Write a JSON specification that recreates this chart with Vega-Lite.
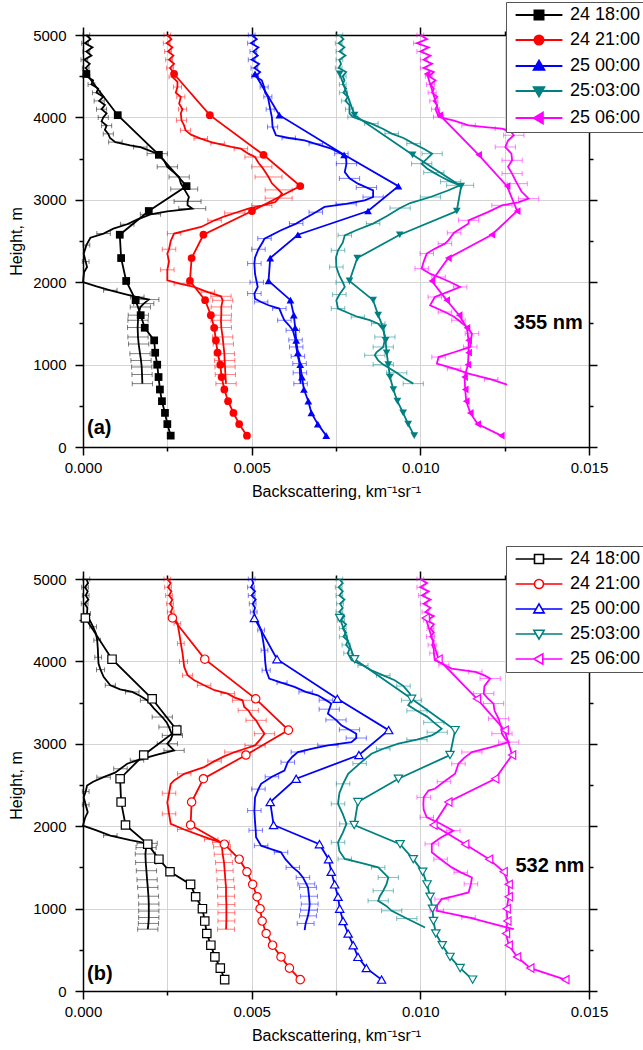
{
"$schema": "https://vega.github.io/schema/vega-lite/v6.json",
"background": "white",
"padding": {"left": 8, "top": 1, "right": 0, "bottom": 0},
"config": {"font": "Liberation Sans", "view": {"stroke": null}, "axis": {"labelFont": "Liberation Sans", "titleFont": "Liberation Sans"}, "legend": {"labelFont": "Liberation Sans"}, "text": {"font": "Liberation Sans"}},
"spacing": 46,
"datasets": {
"mod": [
{"p":"a","s":"24 18:00","h":4527,"v":0.0001},{"p":"a","s":"24 18:00","h":4027,"v":0.00103},{"p":"a","s":"24 18:00","h":3546,"v":0.00225},{"p":"a","s":"24 18:00","h":3166,"v":0.00307},{"p":"a","s":"24 18:00","h":2864,"v":0.00195},{"p":"a","s":"24 18:00","h":2576,"v":0.00109},{"p":"a","s":"24 18:00","h":2293,"v":0.00113},{"p":"a","s":"24 18:00","h":2015,"v":0.00128},{"p":"a","s":"24 18:00","h":1782,"v":0.00156},{"p":"a","s":"24 18:00","h":1600,"v":0.00171},{"p":"a","s":"24 18:00","h":1447,"v":0.00183},{"p":"a","s":"24 18:00","h":1294,"v":0.00211},{"p":"a","s":"24 18:00","h":1144,"v":0.00214},{"p":"a","s":"24 18:00","h":999,"v":0.0022},{"p":"a","s":"24 18:00","h":849,"v":0.00224},{"p":"a","s":"24 18:00","h":698,"v":0.00228},{"p":"a","s":"24 18:00","h":556,"v":0.00234},{"p":"a","s":"24 18:00","h":414,"v":0.00243},{"p":"a","s":"24 18:00","h":278,"v":0.0025},{"p":"a","s":"24 18:00","h":138,"v":0.0026},
{"p":"a","s":"24 21:00","h":4527,"v":0.0027},{"p":"a","s":"24 21:00","h":4027,"v":0.00376},{"p":"a","s":"24 21:00","h":3546,"v":0.00535},{"p":"a","s":"24 21:00","h":3166,"v":0.00644},{"p":"a","s":"24 21:00","h":2864,"v":0.00501},{"p":"a","s":"24 21:00","h":2576,"v":0.00357},{"p":"a","s":"24 21:00","h":2293,"v":0.00322},{"p":"a","s":"24 21:00","h":2015,"v":0.00317},{"p":"a","s":"24 21:00","h":1782,"v":0.00362},{"p":"a","s":"24 21:00","h":1600,"v":0.00379},{"p":"a","s":"24 21:00","h":1447,"v":0.00389},{"p":"a","s":"24 21:00","h":1294,"v":0.00394},{"p":"a","s":"24 21:00","h":1144,"v":0.00399},{"p":"a","s":"24 21:00","h":999,"v":0.00407},{"p":"a","s":"24 21:00","h":849,"v":0.00411},{"p":"a","s":"24 21:00","h":698,"v":0.00419},{"p":"a","s":"24 21:00","h":556,"v":0.0043},{"p":"a","s":"24 21:00","h":414,"v":0.00446},{"p":"a","s":"24 21:00","h":278,"v":0.00463},{"p":"a","s":"24 21:00","h":138,"v":0.00486},
{"p":"a","s":"25 00:00","h":4527,"v":0.0051},{"p":"a","s":"25 00:00","h":4027,"v":0.00582},{"p":"a","s":"25 00:00","h":3546,"v":0.00774},{"p":"a","s":"25 00:00","h":3166,"v":0.00935},{"p":"a","s":"25 00:00","h":2864,"v":0.00845},{"p":"a","s":"25 00:00","h":2576,"v":0.00637},{"p":"a","s":"25 00:00","h":2293,"v":0.00555},{"p":"a","s":"25 00:00","h":2015,"v":0.0055},{"p":"a","s":"25 00:00","h":1782,"v":0.00615},{"p":"a","s":"25 00:00","h":1600,"v":0.00625},{"p":"a","s":"25 00:00","h":1447,"v":0.00629},{"p":"a","s":"25 00:00","h":1294,"v":0.00632},{"p":"a","s":"25 00:00","h":1144,"v":0.00637},{"p":"a","s":"25 00:00","h":999,"v":0.00644},{"p":"a","s":"25 00:00","h":849,"v":0.00649},{"p":"a","s":"25 00:00","h":698,"v":0.00655},{"p":"a","s":"25 00:00","h":556,"v":0.00668},{"p":"a","s":"25 00:00","h":414,"v":0.00677},{"p":"a","s":"25 00:00","h":278,"v":0.00696},{"p":"a","s":"25 00:00","h":138,"v":0.00721},
{"p":"a","s":"25:03:00","h":4527,"v":0.00761},{"p":"a","s":"25:03:00","h":4027,"v":0.00805},{"p":"a","s":"25:03:00","h":3546,"v":0.00977},{"p":"a","s":"25:03:00","h":3166,"v":0.01121},{"p":"a","s":"25:03:00","h":2864,"v":0.01108},{"p":"a","s":"25:03:00","h":2576,"v":0.00939},{"p":"a","s":"25:03:00","h":2293,"v":0.00813},{"p":"a","s":"25:03:00","h":2015,"v":0.0079},{"p":"a","s":"25:03:00","h":1782,"v":0.0086},{"p":"a","s":"25:03:00","h":1600,"v":0.00875},{"p":"a","s":"25:03:00","h":1447,"v":0.0089},{"p":"a","s":"25:03:00","h":1294,"v":0.00897},{"p":"a","s":"25:03:00","h":1144,"v":0.009},{"p":"a","s":"25:03:00","h":999,"v":0.00905},{"p":"a","s":"25:03:00","h":849,"v":0.0091},{"p":"a","s":"25:03:00","h":698,"v":0.0092},{"p":"a","s":"25:03:00","h":556,"v":0.00932},{"p":"a","s":"25:03:00","h":414,"v":0.00949},{"p":"a","s":"25:03:00","h":278,"v":0.00964},{"p":"a","s":"25:03:00","h":138,"v":0.00982},
{"p":"a","s":"25 06:00","h":4527,"v":0.0102},{"p":"a","s":"25 06:00","h":4027,"v":0.01058},{"p":"a","s":"25 06:00","h":3546,"v":0.01173},{"p":"a","s":"25 06:00","h":3166,"v":0.01257},{"p":"a","s":"25 06:00","h":2864,"v":0.01287},{"p":"a","s":"25 06:00","h":2576,"v":0.01212},{"p":"a","s":"25 06:00","h":2293,"v":0.01083},{"p":"a","s":"25 06:00","h":2015,"v":0.01034},{"p":"a","s":"25 06:00","h":1782,"v":0.01078},{"p":"a","s":"25 06:00","h":1600,"v":0.01115},{"p":"a","s":"25 06:00","h":1447,"v":0.01138},{"p":"a","s":"25 06:00","h":1294,"v":0.01143},{"p":"a","s":"25 06:00","h":1144,"v":0.01143},{"p":"a","s":"25 06:00","h":999,"v":0.01141},{"p":"a","s":"25 06:00","h":849,"v":0.01131},{"p":"a","s":"25 06:00","h":698,"v":0.01133},{"p":"a","s":"25 06:00","h":556,"v":0.01136},{"p":"a","s":"25 06:00","h":414,"v":0.01148},{"p":"a","s":"25 06:00","h":278,"v":0.0117},{"p":"a","s":"25 06:00","h":138,"v":0.0124},
{"p":"b","s":"24 18:00","h":4527,"v":0.00007},{"p":"b","s":"24 18:00","h":4027,"v":0.00086},{"p":"b","s":"24 18:00","h":3546,"v":0.00205},{"p":"b","s":"24 18:00","h":3166,"v":0.00278},{"p":"b","s":"24 18:00","h":2864,"v":0.0018},{"p":"b","s":"24 18:00","h":2576,"v":0.0011},{"p":"b","s":"24 18:00","h":2293,"v":0.00113},{"p":"b","s":"24 18:00","h":2015,"v":0.00126},{"p":"b","s":"24 18:00","h":1782,"v":0.00192},{"p":"b","s":"24 18:00","h":1600,"v":0.00225},{"p":"b","s":"24 18:00","h":1447,"v":0.00258},{"p":"b","s":"24 18:00","h":1294,"v":0.00319},{"p":"b","s":"24 18:00","h":1144,"v":0.00334},{"p":"b","s":"24 18:00","h":999,"v":0.00354},{"p":"b","s":"24 18:00","h":849,"v":0.00361},{"p":"b","s":"24 18:00","h":698,"v":0.00367},{"p":"b","s":"24 18:00","h":556,"v":0.00379},{"p":"b","s":"24 18:00","h":414,"v":0.00391},{"p":"b","s":"24 18:00","h":278,"v":0.00407},{"p":"b","s":"24 18:00","h":138,"v":0.0042},
{"p":"b","s":"24 21:00","h":4527,"v":0.00265},{"p":"b","s":"24 21:00","h":4027,"v":0.00361},{"p":"b","s":"24 21:00","h":3546,"v":0.00512},{"p":"b","s":"24 21:00","h":3166,"v":0.00609},{"p":"b","s":"24 21:00","h":2864,"v":0.00483},{"p":"b","s":"24 21:00","h":2576,"v":0.00357},{"p":"b","s":"24 21:00","h":2293,"v":0.00322},{"p":"b","s":"24 21:00","h":2015,"v":0.00319},{"p":"b","s":"24 21:00","h":1782,"v":0.00419},{"p":"b","s":"24 21:00","h":1600,"v":0.00463},{"p":"b","s":"24 21:00","h":1447,"v":0.00486},{"p":"b","s":"24 21:00","h":1294,"v":0.00503},{"p":"b","s":"24 21:00","h":1144,"v":0.00516},{"p":"b","s":"24 21:00","h":999,"v":0.00525},{"p":"b","s":"24 21:00","h":849,"v":0.00531},{"p":"b","s":"24 21:00","h":698,"v":0.00543},{"p":"b","s":"24 21:00","h":556,"v":0.00562},{"p":"b","s":"24 21:00","h":414,"v":0.00587},{"p":"b","s":"24 21:00","h":278,"v":0.00612},{"p":"b","s":"24 21:00","h":138,"v":0.00644},
{"p":"b","s":"25 00:00","h":4527,"v":0.00508},{"p":"b","s":"25 00:00","h":4027,"v":0.00575},{"p":"b","s":"25 00:00","h":3546,"v":0.00754},{"p":"b","s":"25 00:00","h":3166,"v":0.00906},{"p":"b","s":"25 00:00","h":2864,"v":0.00818},{"p":"b","s":"25 00:00","h":2576,"v":0.00632},{"p":"b","s":"25 00:00","h":2293,"v":0.00555},{"p":"b","s":"25 00:00","h":2015,"v":0.00565},{"p":"b","s":"25 00:00","h":1782,"v":0.00701},{"p":"b","s":"25 00:00","h":1600,"v":0.00728},{"p":"b","s":"25 00:00","h":1447,"v":0.00736},{"p":"b","s":"25 00:00","h":1294,"v":0.00746},{"p":"b","s":"25 00:00","h":1144,"v":0.00756},{"p":"b","s":"25 00:00","h":999,"v":0.00761},{"p":"b","s":"25 00:00","h":849,"v":0.00771},{"p":"b","s":"25 00:00","h":698,"v":0.00786},{"p":"b","s":"25 00:00","h":556,"v":0.00801},{"p":"b","s":"25 00:00","h":414,"v":0.00815},{"p":"b","s":"25 00:00","h":278,"v":0.0084},{"p":"b","s":"25 00:00","h":138,"v":0.00885},
{"p":"b","s":"25:03:00","h":4527,"v":0.00761},{"p":"b","s":"25:03:00","h":4027,"v":0.00805},{"p":"b","s":"25:03:00","h":3546,"v":0.00974},{"p":"b","s":"25:03:00","h":3166,"v":0.01103},{"p":"b","s":"25:03:00","h":2864,"v":0.01088},{"p":"b","s":"25:03:00","h":2576,"v":0.00935},{"p":"b","s":"25:03:00","h":2293,"v":0.00815},{"p":"b","s":"25:03:00","h":2015,"v":0.00804},{"p":"b","s":"25:03:00","h":1782,"v":0.0094},{"p":"b","s":"25:03:00","h":1600,"v":0.00979},{"p":"b","s":"25:03:00","h":1447,"v":0.01007},{"p":"b","s":"25:03:00","h":1294,"v":0.0102},{"p":"b","s":"25:03:00","h":1144,"v":0.01029},{"p":"b","s":"25:03:00","h":999,"v":0.01036},{"p":"b","s":"25:03:00","h":849,"v":0.01039},{"p":"b","s":"25:03:00","h":698,"v":0.01046},{"p":"b","s":"25:03:00","h":556,"v":0.01065},{"p":"b","s":"25:03:00","h":414,"v":0.01088},{"p":"b","s":"25:03:00","h":278,"v":0.01118},{"p":"b","s":"25:03:00","h":138,"v":0.01155},
{"p":"b","s":"25 06:00","h":4527,"v":0.01016},{"p":"b","s":"25 06:00","h":4027,"v":0.01054},{"p":"b","s":"25 06:00","h":3546,"v":0.01168},{"p":"b","s":"25 06:00","h":3166,"v":0.0125},{"p":"b","s":"25 06:00","h":2864,"v":0.01272},{"p":"b","s":"25 06:00","h":2576,"v":0.01222},{"p":"b","s":"25 06:00","h":2293,"v":0.01083},{"p":"b","s":"25 06:00","h":2015,"v":0.01039},{"p":"b","s":"25 06:00","h":1782,"v":0.01133},{"p":"b","s":"25 06:00","h":1600,"v":0.01204},{"p":"b","s":"25 06:00","h":1447,"v":0.01247},{"p":"b","s":"25 06:00","h":1294,"v":0.01262},{"p":"b","s":"25 06:00","h":1144,"v":0.01262},{"p":"b","s":"25 06:00","h":999,"v":0.01256},{"p":"b","s":"25 06:00","h":849,"v":0.01258},{"p":"b","s":"25 06:00","h":698,"v":0.01254},{"p":"b","s":"25 06:00","h":556,"v":0.01262},{"p":"b","s":"25 06:00","h":414,"v":0.01287},{"p":"b","s":"25 06:00","h":278,"v":0.01326},{"p":"b","s":"25 06:00","h":138,"v":0.0143}
],
"lid": [
{"p":"a","s":"24 18:00","h":5000,"v":0.0001,"e":0.0001},{"p":"a","s":"24 18:00","h":4950,"v":0.00022},{"p":"a","s":"24 18:00","h":4900,"v":0.00006,"e":0.0001},{"p":"a","s":"24 18:00","h":4850,"v":0.00028},{"p":"a","s":"24 18:00","h":4800,"v":0.0001,"e":0.0001},{"p":"a","s":"24 18:00","h":4750,"v":0.00025},{"p":"a","s":"24 18:00","h":4700,"v":0.00004,"e":0.0001},{"p":"a","s":"24 18:00","h":4650,"v":0.0002},{"p":"a","s":"24 18:00","h":4600,"v":0.00008,"e":0.0001},{"p":"a","s":"24 18:00","h":4550,"v":0.00018},{"p":"a","s":"24 18:00","h":4500,"v":0.0001,"e":0.0001},{"p":"a","s":"24 18:00","h":4450,"v":0.0003},{"p":"a","s":"24 18:00","h":4400,"v":0.00025,"e":0.0001},{"p":"a","s":"24 18:00","h":4350,"v":0.00045},{"p":"a","s":"24 18:00","h":4300,"v":0.0004,"e":0.00012},{"p":"a","s":"24 18:00","h":4250,"v":0.0006},{"p":"a","s":"24 18:00","h":4200,"v":0.00048,"e":0.00015},{"p":"a","s":"24 18:00","h":4150,"v":0.00065},{"p":"a","s":"24 18:00","h":4100,"v":0.00055,"e":0.00015},{"p":"a","s":"24 18:00","h":4050,"v":0.0007},{"p":"a","s":"24 18:00","h":4000,"v":0.0006,"e":0.00015},{"p":"a","s":"24 18:00","h":3950,"v":0.00055},{"p":"a","s":"24 18:00","h":3900,"v":0.0007,"e":0.00015},{"p":"a","s":"24 18:00","h":3850,"v":0.00065},{"p":"a","s":"24 18:00","h":3800,"v":0.00075,"e":0.00015},{"p":"a","s":"24 18:00","h":3750,"v":0.0008},{"p":"a","s":"24 18:00","h":3700,"v":0.00096,"e":0.0002},{"p":"a","s":"24 18:00","h":3660,"v":0.0014},{"p":"a","s":"24 18:00","h":3640,"v":0.0017,"e":0.0002},{"p":"a","s":"24 18:00","h":3600,"v":0.00195},{"p":"a","s":"24 18:00","h":3560,"v":0.0022,"e":0.0003},{"p":"a","s":"24 18:00","h":3480,"v":0.0024},{"p":"a","s":"24 18:00","h":3400,"v":0.0025,"e":0.0003},{"p":"a","s":"24 18:00","h":3330,"v":0.0027},{"p":"a","s":"24 18:00","h":3277,"v":0.00285,"e":0.0003},{"p":"a","s":"24 18:00","h":3200,"v":0.0029},{"p":"a","s":"24 18:00","h":3130,"v":0.003,"e":0.0004},{"p":"a","s":"24 18:00","h":3034,"v":0.00314},{"p":"a","s":"24 18:00","h":2980,"v":0.0031,"e":0.0004},{"p":"a","s":"24 18:00","h":2933,"v":0.0031},{"p":"a","s":"24 18:00","h":2893,"v":0.00324,"e":0.0004},{"p":"a","s":"24 18:00","h":2860,"v":0.0025},{"p":"a","s":"24 18:00","h":2824,"v":0.002,"e":0.0003},{"p":"a","s":"24 18:00","h":2760,"v":0.0016},{"p":"a","s":"24 18:00","h":2703,"v":0.00131,"e":0.0002},{"p":"a","s":"24 18:00","h":2650,"v":0.0009},{"p":"a","s":"24 18:00","h":2590,"v":0.00061,"e":0.0002},{"p":"a","s":"24 18:00","h":2540,"v":0.00022},{"p":"a","s":"24 18:00","h":2450,"v":0.0001,"e":0.0001},{"p":"a","s":"24 18:00","h":2347,"v":0.00002},{"p":"a","s":"24 18:00","h":2250,"v":0.00008,"e":0.0001},{"p":"a","s":"24 18:00","h":2184,"v":0.00012},{"p":"a","s":"24 18:00","h":2120,"v":0.00003},{"p":"a","s":"24 18:00","h":2002,"v":0.0},{"p":"a","s":"24 18:00","h":1950,"v":0.0004},{"p":"a","s":"24 18:00","h":1902,"v":0.00081,"e":0.0002},{"p":"a","s":"24 18:00","h":1850,"v":0.0013},{"p":"a","s":"24 18:00","h":1820,"v":0.00161,"e":0.0002},{"p":"a","s":"24 18:00","h":1789,"v":0.00195,"e":0.0003},{"p":"a","s":"24 18:00","h":1740,"v":0.0018,"e":0.0003},{"p":"a","s":"24 18:00","h":1699,"v":0.0017,"e":0.0003},{"p":"a","s":"24 18:00","h":1600,"v":0.00164,"e":0.0003},{"p":"a","s":"24 18:00","h":1538,"v":0.00163,"e":0.0003},{"p":"a","s":"24 18:00","h":1450,"v":0.00162,"e":0.0003},{"p":"a","s":"24 18:00","h":1335,"v":0.00163,"e":0.0003},{"p":"a","s":"24 18:00","h":1250,"v":0.00165,"e":0.0003},{"p":"a","s":"24 18:00","h":1133,"v":0.00169,"e":0.0003},{"p":"a","s":"24 18:00","h":1050,"v":0.00172,"e":0.0003},{"p":"a","s":"24 18:00","h":971,"v":0.00174,"e":0.0003},{"p":"a","s":"24 18:00","h":880,"v":0.00175,"e":0.0003},{"p":"a","s":"24 18:00","h":769,"v":0.00176,"e":0.0003},
{"p":"a","s":"24 21:00","h":5000,"v":0.0025,"e":0.0001},{"p":"a","s":"24 21:00","h":4950,"v":0.00262},{"p":"a","s":"24 21:00","h":4900,"v":0.00248,"e":0.0001},{"p":"a","s":"24 21:00","h":4850,"v":0.00265},{"p":"a","s":"24 21:00","h":4800,"v":0.00252,"e":0.0001},{"p":"a","s":"24 21:00","h":4750,"v":0.00268},{"p":"a","s":"24 21:00","h":4700,"v":0.00255,"e":0.0001},{"p":"a","s":"24 21:00","h":4650,"v":0.0027},{"p":"a","s":"24 21:00","h":4600,"v":0.00258,"e":0.0001},{"p":"a","s":"24 21:00","h":4550,"v":0.00268},{"p":"a","s":"24 21:00","h":4490,"v":0.00265,"e":0.0001},{"p":"a","s":"24 21:00","h":4430,"v":0.0028},{"p":"a","s":"24 21:00","h":4369,"v":0.0028,"e":0.00012},{"p":"a","s":"24 21:00","h":4300,"v":0.00275},{"p":"a","s":"24 21:00","h":4250,"v":0.0029,"e":0.00012},{"p":"a","s":"24 21:00","h":4167,"v":0.00285},{"p":"a","s":"24 21:00","h":4100,"v":0.00295,"e":0.00012},{"p":"a","s":"24 21:00","h":4050,"v":0.0029},{"p":"a","s":"24 21:00","h":3965,"v":0.00292,"e":0.00015},{"p":"a","s":"24 21:00","h":3900,"v":0.003},{"p":"a","s":"24 21:00","h":3843,"v":0.00304,"e":0.00015},{"p":"a","s":"24 21:00","h":3790,"v":0.0032},{"p":"a","s":"24 21:00","h":3743,"v":0.00349,"e":0.0002},{"p":"a","s":"24 21:00","h":3700,"v":0.0038},{"p":"a","s":"24 21:00","h":3682,"v":0.00399,"e":0.0002},{"p":"a","s":"24 21:00","h":3641,"v":0.0044},{"p":"a","s":"24 21:00","h":3621,"v":0.00468,"e":0.0002},{"p":"a","s":"24 21:00","h":3560,"v":0.0049},{"p":"a","s":"24 21:00","h":3519,"v":0.0051,"e":0.0003},{"p":"a","s":"24 21:00","h":3450,"v":0.0052},{"p":"a","s":"24 21:00","h":3400,"v":0.0053,"e":0.0003},{"p":"a","s":"24 21:00","h":3340,"v":0.0054},{"p":"a","s":"24 21:00","h":3277,"v":0.0055,"e":0.0004},{"p":"a","s":"24 21:00","h":3200,"v":0.0056},{"p":"a","s":"24 21:00","h":3120,"v":0.0058,"e":0.0004},{"p":"a","s":"24 21:00","h":3075,"v":0.0059},{"p":"a","s":"24 21:00","h":3020,"v":0.0058,"e":0.0004},{"p":"a","s":"24 21:00","h":2973,"v":0.0057},{"p":"a","s":"24 21:00","h":2930,"v":0.0053,"e":0.0003},{"p":"a","s":"24 21:00","h":2893,"v":0.0049},{"p":"a","s":"24 21:00","h":2840,"v":0.0045,"e":0.0003},{"p":"a","s":"24 21:00","h":2800,"v":0.0042},{"p":"a","s":"24 21:00","h":2751,"v":0.0039,"e":0.0002},{"p":"a","s":"24 21:00","h":2670,"v":0.0035},{"p":"a","s":"24 21:00","h":2590,"v":0.0027,"e":0.0002},{"p":"a","s":"24 21:00","h":2500,"v":0.0026},{"p":"a","s":"24 21:00","h":2400,"v":0.00255,"e":0.0002},{"p":"a","s":"24 21:00","h":2347,"v":0.0025},{"p":"a","s":"24 21:00","h":2250,"v":0.00255},{"p":"a","s":"24 21:00","h":2150,"v":0.0025,"e":0.0002},{"p":"a","s":"24 21:00","h":2023,"v":0.0025},{"p":"a","s":"24 21:00","h":1980,"v":0.0029,"e":0.0002},{"p":"a","s":"24 21:00","h":1942,"v":0.00329},{"p":"a","s":"24 21:00","h":1880,"v":0.0037,"e":0.0002},{"p":"a","s":"24 21:00","h":1829,"v":0.00409,"e":0.0003},{"p":"a","s":"24 21:00","h":1780,"v":0.00414,"e":0.0003},{"p":"a","s":"24 21:00","h":1700,"v":0.0041,"e":0.0003},{"p":"a","s":"24 21:00","h":1600,"v":0.0041,"e":0.0003},{"p":"a","s":"24 21:00","h":1538,"v":0.00409,"e":0.0003},{"p":"a","s":"24 21:00","h":1450,"v":0.0041,"e":0.0003},{"p":"a","s":"24 21:00","h":1335,"v":0.00414,"e":0.0003},{"p":"a","s":"24 21:00","h":1250,"v":0.00416,"e":0.0003},{"p":"a","s":"24 21:00","h":1133,"v":0.00419,"e":0.0003},{"p":"a","s":"24 21:00","h":1050,"v":0.0042,"e":0.0003},{"p":"a","s":"24 21:00","h":971,"v":0.00421,"e":0.0003},{"p":"a","s":"24 21:00","h":880,"v":0.00422,"e":0.0003},{"p":"a","s":"24 21:00","h":769,"v":0.00424,"e":0.0003},
{"p":"a","s":"25 00:00","h":5000,"v":0.005,"e":0.0001},{"p":"a","s":"25 00:00","h":4950,"v":0.00515},{"p":"a","s":"25 00:00","h":4900,"v":0.00498,"e":0.0001},{"p":"a","s":"25 00:00","h":4850,"v":0.0052},{"p":"a","s":"25 00:00","h":4800,"v":0.00505,"e":0.0001},{"p":"a","s":"25 00:00","h":4750,"v":0.00518},{"p":"a","s":"25 00:00","h":4700,"v":0.005,"e":0.0001},{"p":"a","s":"25 00:00","h":4650,"v":0.00522},{"p":"a","s":"25 00:00","h":4600,"v":0.00508,"e":0.0001},{"p":"a","s":"25 00:00","h":4550,"v":0.00525},{"p":"a","s":"25 00:00","h":4500,"v":0.0051,"e":0.0001},{"p":"a","s":"25 00:00","h":4450,"v":0.0053},{"p":"a","s":"25 00:00","h":4369,"v":0.00537,"e":0.00012},{"p":"a","s":"25 00:00","h":4300,"v":0.0054},{"p":"a","s":"25 00:00","h":4250,"v":0.00548,"e":0.00012},{"p":"a","s":"25 00:00","h":4167,"v":0.00552},{"p":"a","s":"25 00:00","h":4100,"v":0.00555,"e":0.00012},{"p":"a","s":"25 00:00","h":4000,"v":0.0056},{"p":"a","s":"25 00:00","h":3884,"v":0.00562,"e":0.00015},{"p":"a","s":"25 00:00","h":3783,"v":0.00572},{"p":"a","s":"25 00:00","h":3750,"v":0.0061,"e":0.0002},{"p":"a","s":"25 00:00","h":3722,"v":0.00657},{"p":"a","s":"25 00:00","h":3680,"v":0.0069,"e":0.0002},{"p":"a","s":"25 00:00","h":3621,"v":0.00736},{"p":"a","s":"25 00:00","h":3560,"v":0.00766,"e":0.0002},{"p":"a","s":"25 00:00","h":3500,"v":0.0078},{"p":"a","s":"25 00:00","h":3439,"v":0.00781,"e":0.0003},{"p":"a","s":"25 00:00","h":3337,"v":0.00776},{"p":"a","s":"25 00:00","h":3260,"v":0.0079,"e":0.0003},{"p":"a","s":"25 00:00","h":3196,"v":0.00815},{"p":"a","s":"25 00:00","h":3150,"v":0.0084,"e":0.0003},{"p":"a","s":"25 00:00","h":3115,"v":0.0086},{"p":"a","s":"25 00:00","h":3034,"v":0.0086,"e":0.0003},{"p":"a","s":"25 00:00","h":2994,"v":0.00835},{"p":"a","s":"25 00:00","h":2950,"v":0.0078,"e":0.0003},{"p":"a","s":"25 00:00","h":2913,"v":0.00716},{"p":"a","s":"25 00:00","h":2850,"v":0.0069,"e":0.0002},{"p":"a","s":"25 00:00","h":2772,"v":0.00657},{"p":"a","s":"25 00:00","h":2711,"v":0.00632,"e":0.0002},{"p":"a","s":"25 00:00","h":2630,"v":0.00587},{"p":"a","s":"25 00:00","h":2529,"v":0.00538,"e":0.0002},{"p":"a","s":"25 00:00","h":2488,"v":0.00533},{"p":"a","s":"25 00:00","h":2400,"v":0.0052,"e":0.0002},{"p":"a","s":"25 00:00","h":2300,"v":0.0051},{"p":"a","s":"25 00:00","h":2226,"v":0.00508,"e":0.0002},{"p":"a","s":"25 00:00","h":2100,"v":0.0051},{"p":"a","s":"25 00:00","h":2000,"v":0.00515,"e":0.0002},{"p":"a","s":"25 00:00","h":1942,"v":0.00518},{"p":"a","s":"25 00:00","h":1862,"v":0.00508,"e":0.0002},{"p":"a","s":"25 00:00","h":1800,"v":0.0051},{"p":"a","s":"25 00:00","h":1760,"v":0.00528,"e":0.0002},{"p":"a","s":"25 00:00","h":1720,"v":0.0055},{"p":"a","s":"25 00:00","h":1680,"v":0.00582,"e":0.0002},{"p":"a","s":"25 00:00","h":1600,"v":0.0059},{"p":"a","s":"25 00:00","h":1538,"v":0.00597,"e":0.0002},{"p":"a","s":"25 00:00","h":1480,"v":0.0061},{"p":"a","s":"25 00:00","h":1416,"v":0.00622,"e":0.0002},{"p":"a","s":"25 00:00","h":1300,"v":0.0063,"e":0.0002},{"p":"a","s":"25 00:00","h":1214,"v":0.00632,"e":0.0002},{"p":"a","s":"25 00:00","h":1100,"v":0.00637,"e":0.0002},{"p":"a","s":"25 00:00","h":1012,"v":0.00642,"e":0.0002},{"p":"a","s":"25 00:00","h":900,"v":0.00643,"e":0.0002},{"p":"a","s":"25 00:00","h":769,"v":0.00645,"e":0.0002},
{"p":"a","s":"25:03:00","h":5000,"v":0.0076,"e":0.0001},{"p":"a","s":"25:03:00","h":4950,"v":0.00772},{"p":"a","s":"25:03:00","h":4900,"v":0.00758,"e":0.0001},{"p":"a","s":"25:03:00","h":4850,"v":0.00775},{"p":"a","s":"25:03:00","h":4800,"v":0.0076,"e":0.0001},{"p":"a","s":"25:03:00","h":4750,"v":0.00778},{"p":"a","s":"25:03:00","h":4700,"v":0.0076,"e":0.0001},{"p":"a","s":"25:03:00","h":4650,"v":0.00765},{"p":"a","s":"25:03:00","h":4600,"v":0.00758,"e":0.0001},{"p":"a","s":"25:03:00","h":4550,"v":0.0078},{"p":"a","s":"25:03:00","h":4500,"v":0.0077,"e":0.0001},{"p":"a","s":"25:03:00","h":4450,"v":0.00775},{"p":"a","s":"25:03:00","h":4400,"v":0.0077,"e":0.0001},{"p":"a","s":"25:03:00","h":4350,"v":0.0078},{"p":"a","s":"25:03:00","h":4300,"v":0.00772,"e":0.00012},{"p":"a","s":"25:03:00","h":4250,"v":0.00785},{"p":"a","s":"25:03:00","h":4200,"v":0.00778,"e":0.00012},{"p":"a","s":"25:03:00","h":4150,"v":0.0079},{"p":"a","s":"25:03:00","h":4100,"v":0.0079,"e":0.00012},{"p":"a","s":"25:03:00","h":4050,"v":0.0079},{"p":"a","s":"25:03:00","h":4005,"v":0.008,"e":0.00015},{"p":"a","s":"25:03:00","h":3960,"v":0.0083},{"p":"a","s":"25:03:00","h":3925,"v":0.00855,"e":0.0002},{"p":"a","s":"25:03:00","h":3860,"v":0.0089},{"p":"a","s":"25:03:00","h":3803,"v":0.00915,"e":0.0002},{"p":"a","s":"25:03:00","h":3750,"v":0.0095},{"p":"a","s":"25:03:00","h":3682,"v":0.0098,"e":0.0002},{"p":"a","s":"25:03:00","h":3620,"v":0.0101},{"p":"a","s":"25:03:00","h":3560,"v":0.01035,"e":0.0003},{"p":"a","s":"25:03:00","h":3500,"v":0.0102},{"p":"a","s":"25:03:00","h":3439,"v":0.01004,"e":0.0003},{"p":"a","s":"25:03:00","h":3380,"v":0.0102},{"p":"a","s":"25:03:00","h":3330,"v":0.0104,"e":0.0003},{"p":"a","s":"25:03:00","h":3277,"v":0.01063},{"p":"a","s":"25:03:00","h":3220,"v":0.0109,"e":0.0003},{"p":"a","s":"25:03:00","h":3176,"v":0.01118,"e":0.0004},{"p":"a","s":"25:03:00","h":3110,"v":0.0108},{"p":"a","s":"25:03:00","h":3034,"v":0.0103,"e":0.0003},{"p":"a","s":"25:03:00","h":2961,"v":0.0097},{"p":"a","s":"25:03:00","h":2900,"v":0.0094,"e":0.0003},{"p":"a","s":"25:03:00","h":2800,"v":0.009},{"p":"a","s":"25:03:00","h":2711,"v":0.0086,"e":0.0002},{"p":"a","s":"25:03:00","h":2630,"v":0.0081},{"p":"a","s":"25:03:00","h":2569,"v":0.00776,"e":0.0002},{"p":"a","s":"25:03:00","h":2480,"v":0.0077},{"p":"a","s":"25:03:00","h":2387,"v":0.00756,"e":0.0002},{"p":"a","s":"25:03:00","h":2300,"v":0.0075},{"p":"a","s":"25:03:00","h":2184,"v":0.00751,"e":0.0002},{"p":"a","s":"25:03:00","h":2080,"v":0.0076},{"p":"a","s":"25:03:00","h":2000,"v":0.0077,"e":0.0002},{"p":"a","s":"25:03:00","h":1942,"v":0.00776},{"p":"a","s":"25:03:00","h":1850,"v":0.0076,"e":0.0002},{"p":"a","s":"25:03:00","h":1780,"v":0.00751},{"p":"a","s":"25:03:00","h":1680,"v":0.00756,"e":0.0002},{"p":"a","s":"25:03:00","h":1620,"v":0.0079},{"p":"a","s":"25:03:00","h":1578,"v":0.00815,"e":0.0002},{"p":"a","s":"25:03:00","h":1540,"v":0.0085},{"p":"a","s":"25:03:00","h":1497,"v":0.00875,"e":0.0002},{"p":"a","s":"25:03:00","h":1420,"v":0.0089},{"p":"a","s":"25:03:00","h":1335,"v":0.00895,"e":0.0003},{"p":"a","s":"25:03:00","h":1270,"v":0.00893},{"p":"a","s":"25:03:00","h":1214,"v":0.0089,"e":0.0003},{"p":"a","s":"25:03:00","h":1150,"v":0.0087},{"p":"a","s":"25:03:00","h":1113,"v":0.00865,"e":0.0003},{"p":"a","s":"25:03:00","h":1052,"v":0.00875},{"p":"a","s":"25:03:00","h":1000,"v":0.0089,"e":0.0003},{"p":"a","s":"25:03:00","h":900,"v":0.0093,"e":0.0003},{"p":"a","s":"25:03:00","h":840,"v":0.0095},{"p":"a","s":"25:03:00","h":769,"v":0.00979,"e":0.0003},
{"p":"a","s":"25 06:00","h":5000,"v":0.01,"e":0.0001},{"p":"a","s":"25 06:00","h":4950,"v":0.0102},{"p":"a","s":"25 06:00","h":4900,"v":0.0099,"e":0.0001},{"p":"a","s":"25 06:00","h":4850,"v":0.01025},{"p":"a","s":"25 06:00","h":4800,"v":0.01,"e":0.0001},{"p":"a","s":"25 06:00","h":4750,"v":0.0103},{"p":"a","s":"25 06:00","h":4700,"v":0.0101,"e":0.0001},{"p":"a","s":"25 06:00","h":4650,"v":0.01035},{"p":"a","s":"25 06:00","h":4600,"v":0.0101,"e":0.0001},{"p":"a","s":"25 06:00","h":4550,"v":0.0104},{"p":"a","s":"25 06:00","h":4500,"v":0.01025,"e":0.0001},{"p":"a","s":"25 06:00","h":4450,"v":0.01045},{"p":"a","s":"25 06:00","h":4400,"v":0.0103,"e":0.00012},{"p":"a","s":"25 06:00","h":4350,"v":0.0104},{"p":"a","s":"25 06:00","h":4300,"v":0.01035,"e":0.00012},{"p":"a","s":"25 06:00","h":4250,"v":0.0105},{"p":"a","s":"25 06:00","h":4200,"v":0.0104,"e":0.00012},{"p":"a","s":"25 06:00","h":4150,"v":0.0105},{"p":"a","s":"25 06:00","h":4100,"v":0.01045,"e":0.00012},{"p":"a","s":"25 06:00","h":4050,"v":0.0105},{"p":"a","s":"25 06:00","h":4005,"v":0.01054,"e":0.00015},{"p":"a","s":"25 06:00","h":3960,"v":0.011},{"p":"a","s":"25 06:00","h":3904,"v":0.01143,"e":0.0002},{"p":"a","s":"25 06:00","h":3880,"v":0.012},{"p":"a","s":"25 06:00","h":3864,"v":0.01242,"e":0.0002},{"p":"a","s":"25 06:00","h":3820,"v":0.0127},{"p":"a","s":"25 06:00","h":3783,"v":0.01277,"e":0.0003},{"p":"a","s":"25 06:00","h":3720,"v":0.0126},{"p":"a","s":"25 06:00","h":3641,"v":0.01252,"e":0.0003},{"p":"a","s":"25 06:00","h":3560,"v":0.0127},{"p":"a","s":"25 06:00","h":3479,"v":0.01272,"e":0.0003},{"p":"a","s":"25 06:00","h":3400,"v":0.0126},{"p":"a","s":"25 06:00","h":3318,"v":0.01272,"e":0.0003},{"p":"a","s":"25 06:00","h":3250,"v":0.0128},{"p":"a","s":"25 06:00","h":3196,"v":0.01287,"e":0.0003},{"p":"a","s":"25 06:00","h":3100,"v":0.013},{"p":"a","s":"25 06:00","h":3014,"v":0.01321,"e":0.0003},{"p":"a","s":"25 06:00","h":2970,"v":0.0129},{"p":"a","s":"25 06:00","h":2933,"v":0.01242,"e":0.0003},{"p":"a","s":"25 06:00","h":2850,"v":0.012},{"p":"a","s":"25 06:00","h":2751,"v":0.01143,"e":0.0003},{"p":"a","s":"25 06:00","h":2711,"v":0.01143},{"p":"a","s":"25 06:00","h":2600,"v":0.011,"e":0.0002},{"p":"a","s":"25 06:00","h":2508,"v":0.01083},{"p":"a","s":"25 06:00","h":2468,"v":0.01073,"e":0.0002},{"p":"a","s":"25 06:00","h":2400,"v":0.0104},{"p":"a","s":"25 06:00","h":2347,"v":0.01019,"e":0.0002},{"p":"a","s":"25 06:00","h":2250,"v":0.0101},{"p":"a","s":"25 06:00","h":2165,"v":0.01004,"e":0.0002},{"p":"a","s":"25 06:00","h":2100,"v":0.0103},{"p":"a","s":"25 06:00","h":2063,"v":0.01054,"e":0.0002},{"p":"a","s":"25 06:00","h":2000,"v":0.0109},{"p":"a","s":"25 06:00","h":1942,"v":0.01118,"e":0.0002},{"p":"a","s":"25 06:00","h":1880,"v":0.0108},{"p":"a","s":"25 06:00","h":1820,"v":0.01043,"e":0.0002},{"p":"a","s":"25 06:00","h":1720,"v":0.01029},{"p":"a","s":"25 06:00","h":1638,"v":0.01073,"e":0.0002},{"p":"a","s":"25 06:00","h":1580,"v":0.011},{"p":"a","s":"25 06:00","h":1538,"v":0.01113,"e":0.0002},{"p":"a","s":"25 06:00","h":1450,"v":0.0114},{"p":"a","s":"25 06:00","h":1376,"v":0.01153,"e":0.0002},{"p":"a","s":"25 06:00","h":1300,"v":0.0115},{"p":"a","s":"25 06:00","h":1214,"v":0.01148,"e":0.0002},{"p":"a","s":"25 06:00","h":1150,"v":0.011},{"p":"a","s":"25 06:00","h":1092,"v":0.01054,"e":0.0002},{"p":"a","s":"25 06:00","h":1012,"v":0.01049},{"p":"a","s":"25 06:00","h":950,"v":0.011,"e":0.0002},{"p":"a","s":"25 06:00","h":891,"v":0.01143},{"p":"a","s":"25 06:00","h":820,"v":0.0121,"e":0.0002},{"p":"a","s":"25 06:00","h":757,"v":0.01257},
{"p":"b","s":"24 18:00","h":5000,"v":0.0001,"e":0.0001},{"p":"b","s":"24 18:00","h":4950,"v":0.00015},{"p":"b","s":"24 18:00","h":4900,"v":0.00006,"e":0.0001},{"p":"b","s":"24 18:00","h":4850,"v":0.00014},{"p":"b","s":"24 18:00","h":4800,"v":0.00008,"e":0.0001},{"p":"b","s":"24 18:00","h":4750,"v":0.00016},{"p":"b","s":"24 18:00","h":4700,"v":0.00005,"e":0.0001},{"p":"b","s":"24 18:00","h":4650,"v":0.00013},{"p":"b","s":"24 18:00","h":4582,"v":0.00012,"e":0.0001},{"p":"b","s":"24 18:00","h":4500,"v":0.0002},{"p":"b","s":"24 18:00","h":4420,"v":0.0003,"e":0.0001},{"p":"b","s":"24 18:00","h":4340,"v":0.00038},{"p":"b","s":"24 18:00","h":4258,"v":0.00042,"e":0.0001},{"p":"b","s":"24 18:00","h":4150,"v":0.00044},{"p":"b","s":"24 18:00","h":4050,"v":0.00045,"e":0.0001},{"p":"b","s":"24 18:00","h":3974,"v":0.00046},{"p":"b","s":"24 18:00","h":3900,"v":0.00052,"e":0.00012},{"p":"b","s":"24 18:00","h":3812,"v":0.00061},{"p":"b","s":"24 18:00","h":3710,"v":0.00081,"e":0.00015},{"p":"b","s":"24 18:00","h":3660,"v":0.0011},{"p":"b","s":"24 18:00","h":3629,"v":0.00146,"e":0.0002},{"p":"b","s":"24 18:00","h":3580,"v":0.0017},{"p":"b","s":"24 18:00","h":3528,"v":0.0019,"e":0.0002},{"p":"b","s":"24 18:00","h":3430,"v":0.0021},{"p":"b","s":"24 18:00","h":3325,"v":0.00235,"e":0.0003},{"p":"b","s":"24 18:00","h":3260,"v":0.00248},{"p":"b","s":"24 18:00","h":3203,"v":0.00255,"e":0.0003},{"p":"b","s":"24 18:00","h":3150,"v":0.0026},{"p":"b","s":"24 18:00","h":3102,"v":0.00265,"e":0.0003},{"p":"b","s":"24 18:00","h":3050,"v":0.0026},{"p":"b","s":"24 18:00","h":3001,"v":0.0025,"e":0.0003},{"p":"b","s":"24 18:00","h":2960,"v":0.0026},{"p":"b","s":"24 18:00","h":2920,"v":0.0027,"e":0.0003},{"p":"b","s":"24 18:00","h":2870,"v":0.0022},{"p":"b","s":"24 18:00","h":2800,"v":0.0016,"e":0.0002},{"p":"b","s":"24 18:00","h":2758,"v":0.00131},{"p":"b","s":"24 18:00","h":2697,"v":0.00111,"e":0.0002},{"p":"b","s":"24 18:00","h":2650,"v":0.00095},{"p":"b","s":"24 18:00","h":2595,"v":0.00061,"e":0.0002},{"p":"b","s":"24 18:00","h":2540,"v":0.0003},{"p":"b","s":"24 18:00","h":2494,"v":0.00012},{"p":"b","s":"24 18:00","h":2420,"v":0.00008,"e":0.0001},{"p":"b","s":"24 18:00","h":2352,"v":0.00002},{"p":"b","s":"24 18:00","h":2260,"v":0.00008,"e":0.0001},{"p":"b","s":"24 18:00","h":2169,"v":0.00014},{"p":"b","s":"24 18:00","h":2100,"v":0.00006},{"p":"b","s":"24 18:00","h":2007,"v":0.0},{"p":"b","s":"24 18:00","h":1950,"v":0.0004},{"p":"b","s":"24 18:00","h":1886,"v":0.00081,"e":0.0002},{"p":"b","s":"24 18:00","h":1830,"v":0.0014},{"p":"b","s":"24 18:00","h":1792,"v":0.0019,"e":0.0003},{"p":"b","s":"24 18:00","h":1740,"v":0.00187,"e":0.0003},{"p":"b","s":"24 18:00","h":1663,"v":0.00185,"e":0.0003},{"p":"b","s":"24 18:00","h":1560,"v":0.00186,"e":0.0003},{"p":"b","s":"24 18:00","h":1460,"v":0.00188,"e":0.0003},{"p":"b","s":"24 18:00","h":1350,"v":0.0019,"e":0.0003},{"p":"b","s":"24 18:00","h":1257,"v":0.00192,"e":0.0003},{"p":"b","s":"24 18:00","h":1150,"v":0.00194,"e":0.0003},{"p":"b","s":"24 18:00","h":1055,"v":0.00195,"e":0.0003},{"p":"b","s":"24 18:00","h":970,"v":0.00195,"e":0.0003},{"p":"b","s":"24 18:00","h":892,"v":0.00195,"e":0.0003},{"p":"b","s":"24 18:00","h":820,"v":0.00194,"e":0.0003},{"p":"b","s":"24 18:00","h":750,"v":0.00192,"e":0.0003},
{"p":"b","s":"24 21:00","h":5000,"v":0.0025,"e":0.0001},{"p":"b","s":"24 21:00","h":4950,"v":0.0026},{"p":"b","s":"24 21:00","h":4900,"v":0.00252,"e":0.0001},{"p":"b","s":"24 21:00","h":4850,"v":0.00262},{"p":"b","s":"24 21:00","h":4800,"v":0.00255,"e":0.0001},{"p":"b","s":"24 21:00","h":4750,"v":0.00265},{"p":"b","s":"24 21:00","h":4700,"v":0.00258,"e":0.0001},{"p":"b","s":"24 21:00","h":4650,"v":0.00266},{"p":"b","s":"24 21:00","h":4600,"v":0.0026,"e":0.0001},{"p":"b","s":"24 21:00","h":4550,"v":0.00268},{"p":"b","s":"24 21:00","h":4461,"v":0.0028,"e":0.0001},{"p":"b","s":"24 21:00","h":4350,"v":0.00285},{"p":"b","s":"24 21:00","h":4218,"v":0.0029,"e":0.0001},{"p":"b","s":"24 21:00","h":4100,"v":0.00295},{"p":"b","s":"24 21:00","h":4000,"v":0.00298,"e":0.00012},{"p":"b","s":"24 21:00","h":3933,"v":0.003},{"p":"b","s":"24 21:00","h":3832,"v":0.0031,"e":0.00015},{"p":"b","s":"24 21:00","h":3770,"v":0.0033},{"p":"b","s":"24 21:00","h":3710,"v":0.00359,"e":0.0002},{"p":"b","s":"24 21:00","h":3650,"v":0.0039},{"p":"b","s":"24 21:00","h":3609,"v":0.00429,"e":0.0002},{"p":"b","s":"24 21:00","h":3560,"v":0.0045},{"p":"b","s":"24 21:00","h":3528,"v":0.00473,"e":0.0003},{"p":"b","s":"24 21:00","h":3447,"v":0.00478},{"p":"b","s":"24 21:00","h":3406,"v":0.0049,"e":0.0003},{"p":"b","s":"24 21:00","h":3340,"v":0.005},{"p":"b","s":"24 21:00","h":3285,"v":0.00513,"e":0.0003},{"p":"b","s":"24 21:00","h":3200,"v":0.00525},{"p":"b","s":"24 21:00","h":3123,"v":0.00538,"e":0.0003},{"p":"b","s":"24 21:00","h":3041,"v":0.00523},{"p":"b","s":"24 21:00","h":2980,"v":0.0051,"e":0.0003},{"p":"b","s":"24 21:00","h":2940,"v":0.0048},{"p":"b","s":"24 21:00","h":2900,"v":0.0045,"e":0.0003},{"p":"b","s":"24 21:00","h":2850,"v":0.0042},{"p":"b","s":"24 21:00","h":2790,"v":0.0039,"e":0.0002},{"p":"b","s":"24 21:00","h":2717,"v":0.00359},{"p":"b","s":"24 21:00","h":2636,"v":0.003,"e":0.0002},{"p":"b","s":"24 21:00","h":2555,"v":0.0027},{"p":"b","s":"24 21:00","h":2514,"v":0.0026},{"p":"b","s":"24 21:00","h":2400,"v":0.00255,"e":0.0002},{"p":"b","s":"24 21:00","h":2291,"v":0.0025},{"p":"b","s":"24 21:00","h":2150,"v":0.00255,"e":0.0002},{"p":"b","s":"24 21:00","h":2028,"v":0.0026},{"p":"b","s":"24 21:00","h":1960,"v":0.003,"e":0.0002},{"p":"b","s":"24 21:00","h":1886,"v":0.00349},{"p":"b","s":"24 21:00","h":1840,"v":0.0038,"e":0.0002},{"p":"b","s":"24 21:00","h":1804,"v":0.00409,"e":0.00025},{"p":"b","s":"24 21:00","h":1750,"v":0.00412,"e":0.00025},{"p":"b","s":"24 21:00","h":1660,"v":0.00414,"e":0.00025},{"p":"b","s":"24 21:00","h":1560,"v":0.00418,"e":0.00025},{"p":"b","s":"24 21:00","h":1460,"v":0.0042,"e":0.00025},{"p":"b","s":"24 21:00","h":1350,"v":0.00422,"e":0.00025},{"p":"b","s":"24 21:00","h":1257,"v":0.00424,"e":0.00025},{"p":"b","s":"24 21:00","h":1150,"v":0.00424,"e":0.00025},{"p":"b","s":"24 21:00","h":1050,"v":0.00425,"e":0.00025},{"p":"b","s":"24 21:00","h":950,"v":0.00425,"e":0.00025},{"p":"b","s":"24 21:00","h":850,"v":0.00425,"e":0.00025},{"p":"b","s":"24 21:00","h":750,"v":0.00424,"e":0.00025},
{"p":"b","s":"25 00:00","h":5000,"v":0.005,"e":0.0001},{"p":"b","s":"25 00:00","h":4950,"v":0.00505},{"p":"b","s":"25 00:00","h":4900,"v":0.00498,"e":0.0001},{"p":"b","s":"25 00:00","h":4850,"v":0.0051},{"p":"b","s":"25 00:00","h":4800,"v":0.005,"e":0.0001},{"p":"b","s":"25 00:00","h":4750,"v":0.00512},{"p":"b","s":"25 00:00","h":4700,"v":0.00503,"e":0.0001},{"p":"b","s":"25 00:00","h":4650,"v":0.0051},{"p":"b","s":"25 00:00","h":4600,"v":0.00506,"e":0.0001},{"p":"b","s":"25 00:00","h":4500,"v":0.00515},{"p":"b","s":"25 00:00","h":4380,"v":0.00528,"e":0.0001},{"p":"b","s":"25 00:00","h":4250,"v":0.00534},{"p":"b","s":"25 00:00","h":4136,"v":0.00538,"e":0.0001},{"p":"b","s":"25 00:00","h":4000,"v":0.0054},{"p":"b","s":"25 00:00","h":3893,"v":0.00543,"e":0.00012},{"p":"b","s":"25 00:00","h":3792,"v":0.00552},{"p":"b","s":"25 00:00","h":3740,"v":0.0059,"e":0.00015},{"p":"b","s":"25 00:00","h":3690,"v":0.00627},{"p":"b","s":"25 00:00","h":3630,"v":0.0066,"e":0.0002},{"p":"b","s":"25 00:00","h":3589,"v":0.00696},{"p":"b","s":"25 00:00","h":3530,"v":0.0072,"e":0.0002},{"p":"b","s":"25 00:00","h":3488,"v":0.00736},{"p":"b","s":"25 00:00","h":3420,"v":0.0073,"e":0.0003},{"p":"b","s":"25 00:00","h":3366,"v":0.00726},{"p":"b","s":"25 00:00","h":3290,"v":0.0075,"e":0.0003},{"p":"b","s":"25 00:00","h":3224,"v":0.00766},{"p":"b","s":"25 00:00","h":3170,"v":0.0079,"e":0.0003},{"p":"b","s":"25 00:00","h":3123,"v":0.0081},{"p":"b","s":"25 00:00","h":3070,"v":0.0081,"e":0.0003},{"p":"b","s":"25 00:00","h":3021,"v":0.00796},{"p":"b","s":"25 00:00","h":2981,"v":0.00726,"e":0.0003},{"p":"b","s":"25 00:00","h":2940,"v":0.0068},{"p":"b","s":"25 00:00","h":2900,"v":0.00637,"e":0.0002},{"p":"b","s":"25 00:00","h":2840,"v":0.0062},{"p":"b","s":"25 00:00","h":2777,"v":0.00607,"e":0.0002},{"p":"b","s":"25 00:00","h":2676,"v":0.00597},{"p":"b","s":"25 00:00","h":2600,"v":0.0056,"e":0.0002},{"p":"b","s":"25 00:00","h":2514,"v":0.00528},{"p":"b","s":"25 00:00","h":2450,"v":0.0052,"e":0.0002},{"p":"b","s":"25 00:00","h":2350,"v":0.0051},{"p":"b","s":"25 00:00","h":2190,"v":0.00508,"e":0.0002},{"p":"b","s":"25 00:00","h":2050,"v":0.0051},{"p":"b","s":"25 00:00","h":1950,"v":0.00512,"e":0.0002},{"p":"b","s":"25 00:00","h":1865,"v":0.00513},{"p":"b","s":"25 00:00","h":1764,"v":0.00528,"e":0.0002},{"p":"b","s":"25 00:00","h":1720,"v":0.0056},{"p":"b","s":"25 00:00","h":1683,"v":0.00587,"e":0.0002},{"p":"b","s":"25 00:00","h":1600,"v":0.006},{"p":"b","s":"25 00:00","h":1500,"v":0.00622,"e":0.0002},{"p":"b","s":"25 00:00","h":1440,"v":0.0064},{"p":"b","s":"25 00:00","h":1378,"v":0.00652,"e":0.0002},{"p":"b","s":"25 00:00","h":1300,"v":0.00662,"e":0.00025},{"p":"b","s":"25 00:00","h":1257,"v":0.00667,"e":0.00025},{"p":"b","s":"25 00:00","h":1150,"v":0.0067,"e":0.00025},{"p":"b","s":"25 00:00","h":1055,"v":0.00672,"e":0.00025},{"p":"b","s":"25 00:00","h":980,"v":0.0067,"e":0.00025},{"p":"b","s":"25 00:00","h":912,"v":0.00667,"e":0.00025},{"p":"b","s":"25 00:00","h":820,"v":0.0066,"e":0.00025},{"p":"b","s":"25 00:00","h":738,"v":0.00657},
{"p":"b","s":"25:03:00","h":5000,"v":0.0076,"e":0.0001},{"p":"b","s":"25:03:00","h":4950,"v":0.0077},{"p":"b","s":"25:03:00","h":4900,"v":0.00758,"e":0.0001},{"p":"b","s":"25:03:00","h":4850,"v":0.0077},{"p":"b","s":"25:03:00","h":4800,"v":0.0076,"e":0.0001},{"p":"b","s":"25:03:00","h":4750,"v":0.00775},{"p":"b","s":"25:03:00","h":4700,"v":0.00762,"e":0.0001},{"p":"b","s":"25:03:00","h":4650,"v":0.0077},{"p":"b","s":"25:03:00","h":4600,"v":0.0076,"e":0.0001},{"p":"b","s":"25:03:00","h":4550,"v":0.00775},{"p":"b","s":"25:03:00","h":4500,"v":0.00765,"e":0.0001},{"p":"b","s":"25:03:00","h":4450,"v":0.0078},{"p":"b","s":"25:03:00","h":4400,"v":0.0077,"e":0.0001},{"p":"b","s":"25:03:00","h":4350,"v":0.0078},{"p":"b","s":"25:03:00","h":4300,"v":0.00772,"e":0.00012},{"p":"b","s":"25:03:00","h":4250,"v":0.00785},{"p":"b","s":"25:03:00","h":4200,"v":0.0078,"e":0.00012},{"p":"b","s":"25:03:00","h":4150,"v":0.0079},{"p":"b","s":"25:03:00","h":4100,"v":0.00785,"e":0.00012},{"p":"b","s":"25:03:00","h":4015,"v":0.00796},{"p":"b","s":"25:03:00","h":3950,"v":0.0083,"e":0.00015},{"p":"b","s":"25:03:00","h":3893,"v":0.00855},{"p":"b","s":"25:03:00","h":3830,"v":0.0089,"e":0.0002},{"p":"b","s":"25:03:00","h":3771,"v":0.00924},{"p":"b","s":"25:03:00","h":3700,"v":0.0095,"e":0.0002},{"p":"b","s":"25:03:00","h":3609,"v":0.00969},{"p":"b","s":"25:03:00","h":3528,"v":0.00974,"e":0.0003},{"p":"b","s":"25:03:00","h":3467,"v":0.00964},{"p":"b","s":"25:03:00","h":3400,"v":0.0099,"e":0.0003},{"p":"b","s":"25:03:00","h":3330,"v":0.0102},{"p":"b","s":"25:03:00","h":3260,"v":0.0104,"e":0.0003},{"p":"b","s":"25:03:00","h":3184,"v":0.01063},{"p":"b","s":"25:03:00","h":3140,"v":0.0105,"e":0.0003},{"p":"b","s":"25:03:00","h":3102,"v":0.01034},{"p":"b","s":"25:03:00","h":3050,"v":0.0099,"e":0.0003},{"p":"b","s":"25:03:00","h":3001,"v":0.00935},{"p":"b","s":"25:03:00","h":2940,"v":0.0089,"e":0.0002},{"p":"b","s":"25:03:00","h":2880,"v":0.00855},{"p":"b","s":"25:03:00","h":2760,"v":0.0082,"e":0.0002},{"p":"b","s":"25:03:00","h":2636,"v":0.00786},{"p":"b","s":"25:03:00","h":2514,"v":0.00771,"e":0.0002},{"p":"b","s":"25:03:00","h":2400,"v":0.0076},{"p":"b","s":"25:03:00","h":2271,"v":0.00756,"e":0.0002},{"p":"b","s":"25:03:00","h":2150,"v":0.0077},{"p":"b","s":"25:03:00","h":2028,"v":0.00781,"e":0.0002},{"p":"b","s":"25:03:00","h":1920,"v":0.0077},{"p":"b","s":"25:03:00","h":1804,"v":0.00756,"e":0.0002},{"p":"b","s":"25:03:00","h":1700,"v":0.0076},{"p":"b","s":"25:03:00","h":1602,"v":0.00776,"e":0.0002},{"p":"b","s":"25:03:00","h":1550,"v":0.0083},{"p":"b","s":"25:03:00","h":1500,"v":0.00875,"e":0.0002},{"p":"b","s":"25:03:00","h":1440,"v":0.0089},{"p":"b","s":"25:03:00","h":1378,"v":0.00905,"e":0.0003},{"p":"b","s":"25:03:00","h":1300,"v":0.009},{"p":"b","s":"25:03:00","h":1217,"v":0.0089,"e":0.0003},{"p":"b","s":"25:03:00","h":1150,"v":0.0088},{"p":"b","s":"25:03:00","h":1095,"v":0.00875,"e":0.0003},{"p":"b","s":"25:03:00","h":1030,"v":0.009},{"p":"b","s":"25:03:00","h":973,"v":0.00915,"e":0.0003},{"p":"b","s":"25:03:00","h":880,"v":0.0096,"e":0.0003},{"p":"b","s":"25:03:00","h":770,"v":0.01014},
{"p":"b","s":"25 06:00","h":5000,"v":0.01,"e":0.0001},{"p":"b","s":"25 06:00","h":4950,"v":0.0102},{"p":"b","s":"25 06:00","h":4900,"v":0.01,"e":0.0001},{"p":"b","s":"25 06:00","h":4850,"v":0.01025},{"p":"b","s":"25 06:00","h":4800,"v":0.01005,"e":0.0001},{"p":"b","s":"25 06:00","h":4750,"v":0.0103},{"p":"b","s":"25 06:00","h":4700,"v":0.0101,"e":0.0001},{"p":"b","s":"25 06:00","h":4650,"v":0.0103},{"p":"b","s":"25 06:00","h":4600,"v":0.01015,"e":0.0001},{"p":"b","s":"25 06:00","h":4550,"v":0.0104},{"p":"b","s":"25 06:00","h":4500,"v":0.0102,"e":0.0001},{"p":"b","s":"25 06:00","h":4450,"v":0.0104},{"p":"b","s":"25 06:00","h":4400,"v":0.0103,"e":0.0001},{"p":"b","s":"25 06:00","h":4350,"v":0.0104},{"p":"b","s":"25 06:00","h":4300,"v":0.0103,"e":0.00012},{"p":"b","s":"25 06:00","h":4250,"v":0.0104},{"p":"b","s":"25 06:00","h":4200,"v":0.01035,"e":0.00012},{"p":"b","s":"25 06:00","h":4150,"v":0.0104},{"p":"b","s":"25 06:00","h":4100,"v":0.0104,"e":0.00012},{"p":"b","s":"25 06:00","h":4015,"v":0.01043},{"p":"b","s":"25 06:00","h":3960,"v":0.0107,"e":0.00015},{"p":"b","s":"25 06:00","h":3913,"v":0.01093},{"p":"b","s":"25 06:00","h":3873,"v":0.01163,"e":0.0002},{"p":"b","s":"25 06:00","h":3830,"v":0.0119},{"p":"b","s":"25 06:00","h":3792,"v":0.01207,"e":0.0003},{"p":"b","s":"25 06:00","h":3700,"v":0.0119},{"p":"b","s":"25 06:00","h":3609,"v":0.01188,"e":0.0003},{"p":"b","s":"25 06:00","h":3550,"v":0.012},{"p":"b","s":"25 06:00","h":3488,"v":0.01217,"e":0.0003},{"p":"b","s":"25 06:00","h":3400,"v":0.0122},{"p":"b","s":"25 06:00","h":3305,"v":0.01232,"e":0.0003},{"p":"b","s":"25 06:00","h":3200,"v":0.0124},{"p":"b","s":"25 06:00","h":3123,"v":0.01242,"e":0.0003},{"p":"b","s":"25 06:00","h":3070,"v":0.0125},{"p":"b","s":"25 06:00","h":3021,"v":0.01262,"e":0.0003},{"p":"b","s":"25 06:00","h":2960,"v":0.0121},{"p":"b","s":"25 06:00","h":2900,"v":0.01153,"e":0.0003},{"p":"b","s":"25 06:00","h":2830,"v":0.0113},{"p":"b","s":"25 06:00","h":2758,"v":0.01113,"e":0.0002},{"p":"b","s":"25 06:00","h":2636,"v":0.01103},{"p":"b","s":"25 06:00","h":2540,"v":0.0107,"e":0.0002},{"p":"b","s":"25 06:00","h":2454,"v":0.01043},{"p":"b","s":"25 06:00","h":2433,"v":0.01024},{"p":"b","s":"25 06:00","h":2350,"v":0.0101,"e":0.0002},{"p":"b","s":"25 06:00","h":2271,"v":0.01009},{"p":"b","s":"25 06:00","h":2200,"v":0.0101},{"p":"b","s":"25 06:00","h":2108,"v":0.01019,"e":0.0002},{"p":"b","s":"25 06:00","h":2030,"v":0.0106},{"p":"b","s":"25 06:00","h":1946,"v":0.01098,"e":0.0002},{"p":"b","s":"25 06:00","h":1860,"v":0.0106},{"p":"b","s":"25 06:00","h":1784,"v":0.01034,"e":0.0002},{"p":"b","s":"25 06:00","h":1683,"v":0.01034},{"p":"b","s":"25 06:00","h":1600,"v":0.0106,"e":0.0002},{"p":"b","s":"25 06:00","h":1500,"v":0.01093},{"p":"b","s":"25 06:00","h":1440,"v":0.0112,"e":0.0002},{"p":"b","s":"25 06:00","h":1378,"v":0.01153},{"p":"b","s":"25 06:00","h":1300,"v":0.0115,"e":0.0002},{"p":"b","s":"25 06:00","h":1196,"v":0.01143},{"p":"b","s":"25 06:00","h":1150,"v":0.011},{"p":"b","s":"25 06:00","h":1115,"v":0.01063,"e":0.0002},{"p":"b","s":"25 06:00","h":1040,"v":0.0105},{"p":"b","s":"25 06:00","h":973,"v":0.01049,"e":0.0002},{"p":"b","s":"25 06:00","h":930,"v":0.011},{"p":"b","s":"25 06:00","h":892,"v":0.01143,"e":0.0002},{"p":"b","s":"25 06:00","h":820,"v":0.0121},{"p":"b","s":"25 06:00","h":750,"v":0.01277}
]
},
"vconcat": [
{
"width": 506, "height": 412,
"layer": [
{"data": {"name": "lid"}, "transform": [{"filter": "datum.p == 'a'"}],
 "mark": {"type": "line", "strokeWidth": 1.8},
 "encoding": {
  "x": {"field": "v", "type": "quantitative", "scale": {"domain": [0, 0.015], "nice": false, "zero": false},
   "axis": {"title": "Backscattering, km⁻¹sr⁻¹", "values": [0,0.0025,0.005,0.0075,0.01,0.0125,0.015], "labelExpr": "abs((datum.value*1000) % 5) < 0.1 ? format(datum.value, '.3f') : ''", "grid": true, "gridColor": "#d4d4d4", "gridWidth": 1, "tickSize": {"condition": {"test": "abs((datum.value*1000) % 5) > 0.1", "value": 4}, "value": 8}, "tickColor": "#000", "tickWidth": 1.5, "domainColor": "#000", "domainWidth": 1.5, "labelFontSize": 15, "labelColor": "#000", "labelPadding": 5, "titleFontSize": 16, "titleFontWeight": "normal", "titleColor": "#000", "titlePadding": 8, "labelFlush": false}},
  "y": {"field": "h", "type": "quantitative", "scale": {"domain": [0, 5000], "nice": false},
   "axis": {"title": "Height, m", "values": [0,500,1000,1500,2000,2500,3000,3500,4000,4500,5000], "labelExpr": "datum.value % 1000 == 0 ? format(datum.value, 'd') : ''", "grid": true, "gridColor": "#d4d4d4", "gridOpacity": {"condition": {"test": "datum.value % 1000 != 0", "value": 0}, "value": 1}, "tickSize": {"condition": {"test": "datum.value % 1000 != 0", "value": 4}, "value": 8}, "tickColor": "#000", "tickWidth": 1.5, "domainColor": "#000", "domainWidth": 1.5, "labelFontSize": 15, "labelColor": "#000", "labelPadding": 9, "titleFontSize": 16, "titleFontWeight": "normal", "titleColor": "#000", "titlePadding": 8, "labelFlush": false}},
  "color": {"field": "s", "type": "nominal", "scale": {"domain": ["24 18:00","24 21:00","25 00:00","25:03:00","25 06:00"], "range": ["#000000","#ff0000","#0000ff","#008080","#ff00ff"]}, "legend": null},
  "order": {"field": "h", "type": "quantitative"}
 }},
{"data": {"name": "lid"}, "transform": [{"filter": "datum.p == 'a' && isValid(datum.e)"}],
 "mark": {"type": "errorbar", "ticks": true, "opacity": 0.5, "thickness": 1},
 "encoding": {
  "x": {"field": "v", "type": "quantitative", "axis": null},
  "xError": {"field": "e"},
  "y": {"field": "h", "type": "quantitative", "axis": null},
  "color": {"field": "s", "type": "nominal", "scale": {"domain": ["24 18:00","24 21:00","25 00:00","25:03:00","25 06:00"], "range": ["#000000","#ff0000","#0000ff","#008080","#ff00ff"]}, "legend": null}
 }},
{"data": {"name": "mod"}, "transform": [{"filter": "datum.p == 'a'"}],
 "mark": {"type": "line", "strokeWidth": 1.8},
 "encoding": {
  "x": {"field": "v", "type": "quantitative", "axis": null},
  "y": {"field": "h", "type": "quantitative", "axis": null},
  "color": {"field": "s", "type": "nominal", "scale": {"domain": ["24 18:00","24 21:00","25 00:00","25:03:00","25 06:00"], "range": ["#000000","#ff0000","#0000ff","#008080","#ff00ff"]}, "legend": null},
  "order": {"field": "h", "type": "quantitative"}
 }},
{"data": {"name": "mod"}, "transform": [{"filter": "datum.p == 'a'"}],
 "mark": {"type": "point", "filled": true, "opacity": 1, "size": 60},
 "encoding": {
  "x": {"field": "v", "type": "quantitative", "axis": null},
  "y": {"field": "h", "type": "quantitative", "axis": null},
  "color": {"field": "s", "type": "nominal", "scale": {"domain": ["24 18:00","24 21:00","25 00:00","25:03:00","25 06:00"], "range": ["#000000","#ff0000","#0000ff","#008080","#ff00ff"]}, "legend": null},
  "shape": {"field": "s", "type": "nominal", "scale": {"domain": ["24 18:00","24 21:00","25 00:00","25:03:00","25 06:00"], "range": ["square","circle","triangle-up","triangle-down","triangle-left"]}, "legend": null}
 }},
{"data": {"name": "mod"}, "transform": [{"filter": "false"}],
 "mark": {"type": "point", "filled": true, "strokeWidth": 2, "opacity": 1},
 "encoding": {
  "x": {"field": "v", "type": "quantitative", "axis": {"orient": "top", "values": [0,0.0025,0.005,0.0075,0.01,0.0125,0.015], "labels": false, "title": null, "grid": false, "tickSize": {"condition": {"test": "abs((datum.value*1000) % 5) > 0.1", "value": 4}, "value": 8}, "tickColor": "#000", "tickWidth": 1.5, "domainColor": "#000", "domainWidth": 1.5}},
  "y": {"field": "h", "type": "quantitative", "axis": {"orient": "right", "values": [0,500,1000,1500,2000,2500,3000,3500,4000,4500,5000], "labels": false, "title": null, "grid": false, "tickSize": {"condition": {"test": "datum.value % 1000 != 0", "value": 4}, "value": 8}, "tickColor": "#000", "tickWidth": 1.5, "domainColor": "#000", "domainWidth": 1.5}},
  "fill": {"field": "s", "type": "nominal", "scale": {"domain": ["24 18:00","24 21:00","25 00:00","25:03:00","25 06:00"], "range": ["#000000","#ff0000","#0000ff","#008080","#ff00ff"]},
   "legend": {"title": null, "orient": "none", "legendX": 423, "legendY": -33, "fillColor": "white", "strokeColor": "#555", "padding": 4, "symbolSize": 81, "symbolStrokeWidth": 2, "symbolOffset": 20, "labelOffset": 22, "labelFontSize": 18, "labelFont": "Liberation Sans", "labelColor": "#000", "rowPadding": 7, "symbolOpacity": 1}},
  "stroke": {"field": "s", "type": "nominal", "scale": {"domain": ["24 18:00","24 21:00","25 00:00","25:03:00","25 06:00"], "range": ["#000000","#ff0000","#0000ff","#008080","#ff00ff"]},
   "legend": {"title": null, "orient": "none", "legendX": 423, "legendY": -33, "fillColor": "white", "strokeColor": "#555", "padding": 4, "symbolSize": 81, "symbolStrokeWidth": 2, "symbolOffset": 20, "labelOffset": 22, "labelFontSize": 18, "labelFont": "Liberation Sans", "labelColor": "#000", "rowPadding": 7, "symbolOpacity": 1}},
  "shape": {"field": "s", "type": "nominal", "scale": {"domain": ["24 18:00","24 21:00","25 00:00","25:03:00","25 06:00"], "range": ["M-5.2,0H5.2M-1,-1H1V1H-1Z","M-5.2,0H5.2M1,0A1,1,0,1,1,-1,0A1,1,0,1,1,1,0Z","M-5.2,0H5.2M0,-1.15L1.15,0.85H-1.15Z","M-5.2,0H5.2M0,1.15L1.15,-0.85H-1.15Z","M-5.2,0H5.2M-1.15,0L0.85,-1.15V1.15Z"]},
   "legend": {"title": null, "orient": "none", "legendX": 423, "legendY": -33, "fillColor": "white", "strokeColor": "#555", "padding": 4, "symbolSize": 81, "symbolStrokeWidth": 2, "symbolOffset": 20, "labelOffset": 22, "labelFontSize": 18, "labelFont": "Liberation Sans", "labelColor": "#000", "rowPadding": 7, "symbolOpacity": 1}},
  "size": {"value": 81}
 }},
{"data": {"values": [{}]},
 "mark": {"type": "text", "text": "(a)", "fontSize": 20, "fontWeight": "bold", "align": "left", "baseline": "middle", "color": "#000"},
 "encoding": {"x": {"datum": 0.00012, "type": "quantitative", "axis": null}, "y": {"datum": 227, "type": "quantitative", "axis": null}}},
{"data": {"values": [{}]},
 "mark": {"type": "text", "text": "355 nm", "fontSize": 20, "fontWeight": "bold", "align": "left", "baseline": "middle", "color": "#000"},
 "encoding": {"x": {"datum": 0.01277, "type": "quantitative", "axis": null}, "y": {"datum": 1507, "type": "quantitative", "axis": null}}}
],
"resolve": {"scale": {"color": "independent", "shape": "independent", "fill": "independent", "stroke": "independent"}, "axis": {"x": "independent", "y": "independent"}}
},
{
"width": 506, "height": 412,
"layer": [
{"data": {"name": "lid"}, "transform": [{"filter": "datum.p == 'b'"}],
 "mark": {"type": "line", "strokeWidth": 1.8},
 "encoding": {
  "x": {"field": "v", "type": "quantitative", "scale": {"domain": [0, 0.015], "nice": false, "zero": false},
   "axis": {"title": "Backscattering, km⁻¹sr⁻¹", "values": [0,0.0025,0.005,0.0075,0.01,0.0125,0.015], "labelExpr": "abs((datum.value*1000) % 5) < 0.1 ? format(datum.value, '.3f') : ''", "grid": true, "gridColor": "#d4d4d4", "gridWidth": 1, "tickSize": {"condition": {"test": "abs((datum.value*1000) % 5) > 0.1", "value": 4}, "value": 8}, "tickColor": "#000", "tickWidth": 1.5, "domainColor": "#000", "domainWidth": 1.5, "labelFontSize": 15, "labelColor": "#000", "labelPadding": 5, "titleFontSize": 16, "titleFontWeight": "normal", "titleColor": "#000", "titlePadding": 8, "labelFlush": false}},
  "y": {"field": "h", "type": "quantitative", "scale": {"domain": [0, 5000], "nice": false},
   "axis": {"title": "Height, m", "values": [0,500,1000,1500,2000,2500,3000,3500,4000,4500,5000], "labelExpr": "datum.value % 1000 == 0 ? format(datum.value, 'd') : ''", "grid": true, "gridColor": "#d4d4d4", "gridOpacity": {"condition": {"test": "datum.value % 1000 != 0", "value": 0}, "value": 1}, "tickSize": {"condition": {"test": "datum.value % 1000 != 0", "value": 4}, "value": 8}, "tickColor": "#000", "tickWidth": 1.5, "domainColor": "#000", "domainWidth": 1.5, "labelFontSize": 15, "labelColor": "#000", "labelPadding": 9, "titleFontSize": 16, "titleFontWeight": "normal", "titleColor": "#000", "titlePadding": 8, "labelFlush": false}},
  "color": {"field": "s", "type": "nominal", "scale": {"domain": ["24 18:00","24 21:00","25 00:00","25:03:00","25 06:00"], "range": ["#000000","#ff0000","#0000ff","#008080","#ff00ff"]}, "legend": null},
  "order": {"field": "h", "type": "quantitative"}
 }},
{"data": {"name": "lid"}, "transform": [{"filter": "datum.p == 'b' && isValid(datum.e)"}],
 "mark": {"type": "errorbar", "ticks": true, "opacity": 0.5, "thickness": 1},
 "encoding": {
  "x": {"field": "v", "type": "quantitative", "axis": null},
  "xError": {"field": "e"},
  "y": {"field": "h", "type": "quantitative", "axis": null},
  "color": {"field": "s", "type": "nominal", "scale": {"domain": ["24 18:00","24 21:00","25 00:00","25:03:00","25 06:00"], "range": ["#000000","#ff0000","#0000ff","#008080","#ff00ff"]}, "legend": null}
 }},
{"data": {"name": "mod"}, "transform": [{"filter": "datum.p == 'b'"}],
 "mark": {"type": "line", "strokeWidth": 1.8},
 "encoding": {
  "x": {"field": "v", "type": "quantitative", "axis": null},
  "y": {"field": "h", "type": "quantitative", "axis": null},
  "color": {"field": "s", "type": "nominal", "scale": {"domain": ["24 18:00","24 21:00","25 00:00","25:03:00","25 06:00"], "range": ["#000000","#ff0000","#0000ff","#008080","#ff00ff"]}, "legend": null},
  "order": {"field": "h", "type": "quantitative"}
 }},
{"data": {"name": "mod"}, "transform": [{"filter": "datum.p == 'b'"}],
 "mark": {"type": "point", "filled": false, "fill": "white", "fillOpacity": 1, "opacity": 1, "size": 70, "strokeWidth": 1.2},
 "encoding": {
  "x": {"field": "v", "type": "quantitative", "axis": null},
  "y": {"field": "h", "type": "quantitative", "axis": null},
  "color": {"field": "s", "type": "nominal", "scale": {"domain": ["24 18:00","24 21:00","25 00:00","25:03:00","25 06:00"], "range": ["#000000","#ff0000","#0000ff","#008080","#ff00ff"]}, "legend": null},
  "shape": {"field": "s", "type": "nominal", "scale": {"domain": ["24 18:00","24 21:00","25 00:00","25:03:00","25 06:00"], "range": ["square","circle","triangle-up","triangle-down","triangle-left"]}, "legend": null}
 }},
{"data": {"name": "mod"}, "transform": [{"filter": "false"}],
 "mark": {"type": "point", "filled": false, "fill": "white", "strokeWidth": 2, "opacity": 1},
 "encoding": {
  "x": {"field": "v", "type": "quantitative", "axis": {"orient": "top", "values": [0,0.0025,0.005,0.0075,0.01,0.0125,0.015], "labels": false, "title": null, "grid": false, "tickSize": {"condition": {"test": "abs((datum.value*1000) % 5) > 0.1", "value": 4}, "value": 8}, "tickColor": "#000", "tickWidth": 1.5, "domainColor": "#000", "domainWidth": 1.5}},
  "y": {"field": "h", "type": "quantitative", "axis": {"orient": "right", "values": [0,500,1000,1500,2000,2500,3000,3500,4000,4500,5000], "labels": false, "title": null, "grid": false, "tickSize": {"condition": {"test": "datum.value % 1000 != 0", "value": 4}, "value": 8}, "tickColor": "#000", "tickWidth": 1.5, "domainColor": "#000", "domainWidth": 1.5}},
  "stroke": {"field": "s", "type": "nominal", "scale": {"domain": ["24 18:00","24 21:00","25 00:00","25:03:00","25 06:00"], "range": ["#000000","#ff0000","#0000ff","#008080","#ff00ff"]},
   "legend": {"title": null, "orient": "none", "legendX": 423, "legendY": -33, "fillColor": "white", "strokeColor": "#555", "padding": 4, "symbolSize": 81, "symbolStrokeWidth": 1.6, "symbolFillColor": "white", "symbolOffset": 20, "labelOffset": 22, "labelFontSize": 18, "labelFont": "Liberation Sans", "labelColor": "#000", "rowPadding": 7, "symbolOpacity": 1}},
  "shape": {"field": "s", "type": "nominal", "scale": {"domain": ["24 18:00","24 21:00","25 00:00","25:03:00","25 06:00"], "range": ["M-5.2,0H-1M1,0H5.2M-1,-1H1V1H-1Z","M-5.2,0H-1M1,0H5.2M1,0A1,1,0,1,1,-1,0A1,1,0,1,1,1,0Z","M-5.2,0H-0.66M0.66,0H5.2M0,-1.15L1.15,0.85H-1.15Z","M-5.2,0H-0.66M0.66,0H5.2M0,1.15L1.15,-0.85H-1.15Z","M-5.2,0H-1.15M0.85,0H5.2M-1.15,0L0.85,-1.15V1.15Z"]},
   "legend": {"title": null, "orient": "none", "legendX": 423, "legendY": -33, "fillColor": "white", "strokeColor": "#555", "padding": 4, "symbolSize": 81, "symbolStrokeWidth": 1.6, "symbolFillColor": "white", "symbolOffset": 20, "labelOffset": 22, "labelFontSize": 18, "labelFont": "Liberation Sans", "labelColor": "#000", "rowPadding": 7, "symbolOpacity": 1}},
  "size": {"value": 81}
 }},
{"data": {"values": [{}]},
 "mark": {"type": "text", "text": "(b)", "fontSize": 20, "fontWeight": "bold", "align": "left", "baseline": "middle", "color": "#000"},
 "encoding": {"x": {"datum": 0.00012, "type": "quantitative", "axis": null}, "y": {"datum": 207, "type": "quantitative", "axis": null}}},
{"data": {"values": [{}]},
 "mark": {"type": "text", "text": "532 nm", "fontSize": 20, "fontWeight": "bold", "align": "left", "baseline": "middle", "color": "#000"},
 "encoding": {"x": {"datum": 0.01282, "type": "quantitative", "axis": null}, "y": {"datum": 1515, "type": "quantitative", "axis": null}}}
],
"resolve": {"scale": {"color": "independent", "shape": "independent", "fill": "independent", "stroke": "independent"}, "axis": {"x": "independent", "y": "independent"}}
}
]
}
